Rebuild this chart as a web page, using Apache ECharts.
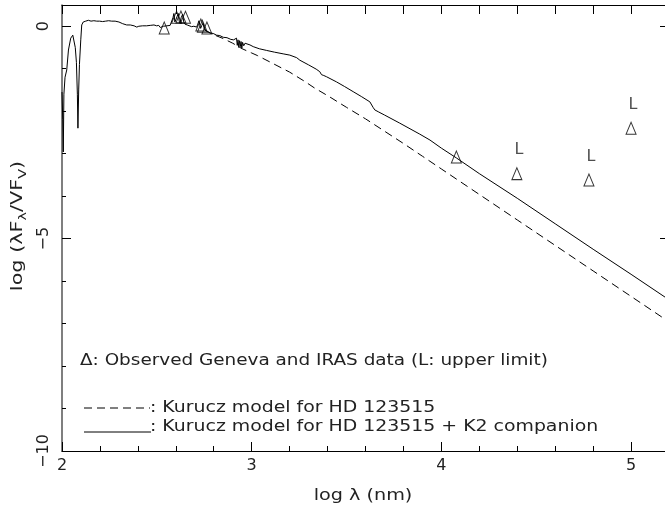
<!DOCTYPE html>
<html>
<head>
<meta charset="utf-8">
<script src="https://cdn.jsdelivr.net/npm/echarts@6/dist/echarts.min.js"></script>
<style>html,body{margin:0;padding:0;background:#fff}#c{width:665px;height:520px}</style>
</head>
<body>
<div id="c"></div>
<script>
// ---- data: log lambda (nm), log (lambda F_lambda / nu F_nu(V)) ----
const solidX = [2.000,2.004,2.0068,2.010,2.016,2.025,2.034,2.046,2.057,2.063,2.070,2.076,2.081,2.084,2.088,2.092,2.099,2.104,2.112,
2.118,2.125,2.132,2.139,2.146,2.153,2.160,2.168,2.175,2.183,2.190,2.198,2.206,2.214,2.222,2.230,2.238,2.246,2.254,2.262,2.270,2.280,2.290,2.300,2.310,2.320,2.330,2.341,2.350,2.360,2.370,2.380,2.394,2.405,2.415,2.425,2.435,2.446,2.455,2.465,2.475,2.485,2.499,2.510,2.518,2.525,2.535,2.545,2.553,2.560,2.570,2.578,2.585,2.590,2.595,2.601,2.606,2.613,2.618,2.622,2.628,2.636,2.642,2.648,2.655,2.660,2.670,2.683,2.695,2.710,2.716,2.722,2.727,2.731,2.737,2.744,2.750,2.756,2.762,2.770,2.780,2.797,2.815,2.832,2.850,2.870,2.890,2.905,
2.915,2.920,2.924,2.928,2.932,2.936,2.940,2.944,2.948,2.952,2.958,2.965,2.975,2.991,3.008,3.040,3.079,3.120,3.166,3.201,3.237,3.254,3.300,3.340,3.359,3.368,3.380,3.395,3.447,3.490,3.535,3.580,3.623,3.632,3.640,3.649,3.670,3.700,3.780,3.886,3.940,4.000,4.079,4.200,4.400,4.600,4.800,5.000,5.200];
const solidY = [-1.55,-2.20,-2.96,-1.60,-1.20,-1.03,-0.56,-0.28,-0.21,-0.25,-0.50,-0.85,-1.60,-2.40,-1.50,-0.90,-0.32,0.03,0.10,
0.14,0.12,0.16,0.14,0.15,0.12,0.15,0.13,0.14,0.12,0.14,0.12,0.14,0.11,0.13,0.12,0.10,0.13,0.11,0.12,0.10,0.12,0.09,0.10,0.07,0.06,0.04,0.03,0.01,0.03,-0.01,0.01,-0.02,0.00,-0.02,0.01,-0.01,0.01,-0.01,0.02,0.00,0.03,0.01,0.02,-0.03,0.01,0.00,-0.02,0.01,-0.02,0.02,0.04,0.20,0.30,0.10,0.06,0.22,0.30,0.12,0.07,0.20,0.28,0.10,0.05,0.06,0.03,0.01,-0.01,0.00,-0.02,0.05,0.13,0.02,-0.05,0.02,0.07,-0.06,-0.02,-0.12,-0.10,-0.16,-0.17,-0.21,-0.22,-0.26,-0.27,-0.31,-0.32,
-0.35,-0.28,-0.45,-0.32,-0.50,-0.34,-0.48,-0.36,-0.52,-0.38,-0.46,-0.40,-0.44,-0.44,-0.48,-0.53,-0.57,-0.61,-0.65,-0.68,-0.74,-0.80,-0.91,-1.01,-1.07,-1.14,-1.16,-1.19,-1.31,-1.42,-1.54,-1.66,-1.78,-1.82,-1.91,-1.97,-2.02,-2.09,-2.28,-2.54,-2.68,-2.87,-3.10,-3.47,-4.05,-4.65,-5.25,-5.84,-6.44];
const dashedX = [2.75,2.80,2.85,2.90,2.95,3.00,3.03,3.10,3.20,3.28,3.33,3.41,3.50,3.60,3.70,3.80,3.90,4.00,4.10,4.20,4.40,4.60,4.80,5.00,5.20];
const dashedY = [-0.08,-0.20,-0.29,-0.40,-0.53,-0.63,-0.69,-0.85,-1.08,-1.30,-1.45,-1.66,-1.91,-2.18,-2.47,-2.76,-3.06,-3.36,-3.66,-3.96,-4.56,-5.16,-5.76,-6.36,-6.96];
const obsX = [2.539,2.604,2.627,2.651,2.732,2.740,2.764,4.079];
const obsY = [-0.04,0.21,0.22,0.21,0.03,0.00,-0.04,-3.08];
const limX = [4.398,4.778,5.000];
const limY = [-3.47,-3.62,-2.40];
const xTicks = [2,3,4,5];
const yTicks = [0,-5,-10];

const pairs = (xs, ys) => xs.map((x, i) => [x, ys[i]]);
const FONT = 'DejaVu Sans';
const TXT = '#222';

const chart = echarts.init(document.getElementById('c'), null, {renderer: 'canvas'});
const xBase = {
  type: 'value', min: 2, max: 5.2, interval: 1,
  axisLine: {onZero: false, lineStyle: {color: '#000', width: 1}},
  axisTick: {inside: true, length: 9, lineStyle: {color: '#000'}},
  minorTick: {show: true, splitNumber: 5, length: 5, lineStyle: {color: '#000'}},
  splitLine: {show: false}, minorSplitLine: {show: false}
};
const yBase = {
  type: 'value', min: -10, max: 0.5, interval: 5,
  axisLine: {onZero: false, lineStyle: {color: '#555', width: 1.5}},
  axisTick: {inside: true, length: 9, lineStyle: {color: '#000'}},
  minorTick: {show: true, splitNumber: 5, length: 4, lineStyle: {color: '#000'}},
  splitLine: {show: false}, minorSplitLine: {show: false}
};
const tickFmt = (ticks) => (v) => ticks.includes(Math.round(v * 1000) / 1000) ? String(v).replace('-', '\u2212') : '';

chart.setOption({
  animation: false,
  backgroundColor: '#fff',
  grid: {left: 62, top: 5, width: 607, height: 446, outerBoundsMode: 'none', containLabel: false},
  xAxis: [
    Object.assign({}, xBase, {position: 'bottom',
      axisLabel: {show: true, margin: 7, fontSize: 16, fontFamily: FONT, color: TXT, formatter: tickFmt(xTicks), showMaxLabel: false}}),
    Object.assign({}, xBase, {position: 'top', axisLabel: {show: false},
      axisTick: {inside: true, length: 9, lineStyle: {color: '#000'}},
      minorTick: {show: true, splitNumber: 5, length: 9, lineStyle: {color: '#000'}}})
  ],
  yAxis: [
    Object.assign({}, yBase, {position: 'left',
      axisLabel: {show: true, rotate: 90, margin: 10, fontSize: 16, fontFamily: FONT, color: TXT, formatter: tickFmt(yTicks), showMaxLabel: false}}),
    Object.assign({}, yBase, {position: 'right', axisLabel: {show: false},
      axisLine: {onZero: false, lineStyle: {color: '#000', width: 1}}})
  ],
  series: [
    {type: 'line', name: 'Kurucz model for HD 123515 + K2 companion', data: pairs(solidX, solidY), showSymbol: false, symbol: 'none',
      lineStyle: {color: '#000', width: 1}, z: 3},
    {type: 'line', name: 'Kurucz model for HD 123515', data: pairs(dashedX, dashedY), showSymbol: false, symbol: 'none',
      lineStyle: {color: '#000', width: 1, type: [8, 5]}, z: 2},
    {type: 'scatter', name: 'Observed', data: pairs(obsX, obsY), symbol: 'triangle', symbolSize: [10, 12],
      itemStyle: {color: 'rgba(0,0,0,0)', borderColor: '#000', borderWidth: 1}, z: 4},
    {type: 'scatter', name: 'Upper limit', data: pairs(limX, limY), symbol: 'triangle', symbolSize: [10, 12],
      itemStyle: {color: 'rgba(0,0,0,0)', borderColor: '#000', borderWidth: 1}, z: 4,
      label: {show: true, formatter: 'L', position: 'top', distance: 9, offset: [2, 0], fontSize: 16, fontFamily: FONT, color: TXT}}
  ],
  graphic: [
    {type: 'text', x: 363, y: 496, scaleX: 1.2, style: {text: 'log λ (nm)', font: '16px "DejaVu Sans"', fill: TXT, align: 'center', verticalAlign: 'middle'}},
    {type: 'text', x: 18, y: 226, rotation: Math.PI / 2, scaleX: 1.3,
      style: {text: '{a|log (λF}{s|λ}{a|/VF}{s|V}{a|)}', align: 'center', verticalAlign: 'middle', fill: TXT,
        rich: {a: {fontSize: 16, fontFamily: FONT, fill: TXT, lineHeight: 24, verticalAlign: 'middle'},
               s: {fontSize: 11, fontFamily: FONT, fill: TXT, lineHeight: 24, verticalAlign: 'middle', padding: [10, 0, 0, 0]}}}},
    {type: 'text', x: 80, y: 361, scaleX: 1.15, style: {text: 'Δ: Observed Geneva and IRAS data (L: upper limit)', font: '16px "DejaVu Sans"', fill: TXT, align: 'left', verticalAlign: 'middle'}},
    {type: 'line', shape: {x1: 84, y1: 408, x2: 150, y2: 408}, style: {stroke: '#000', lineWidth: 1, lineDash: [8, 5]}},
    {type: 'text', x: 150, y: 408, scaleX: 1.18, style: {text: ': Kurucz model for HD 123515', font: '16px "DejaVu Sans"', fill: TXT, align: 'left', verticalAlign: 'middle'}},
    {type: 'line', shape: {x1: 84, y1: 432, x2: 151, y2: 432}, style: {stroke: '#000', lineWidth: 1}},
    {type: 'text', x: 150, y: 427, scaleX: 1.18, style: {text: ': Kurucz model for HD 123515 + K2 companion', font: '16px "DejaVu Sans"', fill: TXT, align: 'left', verticalAlign: 'middle'}}
  ]
});
</script>
</body>
</html>
